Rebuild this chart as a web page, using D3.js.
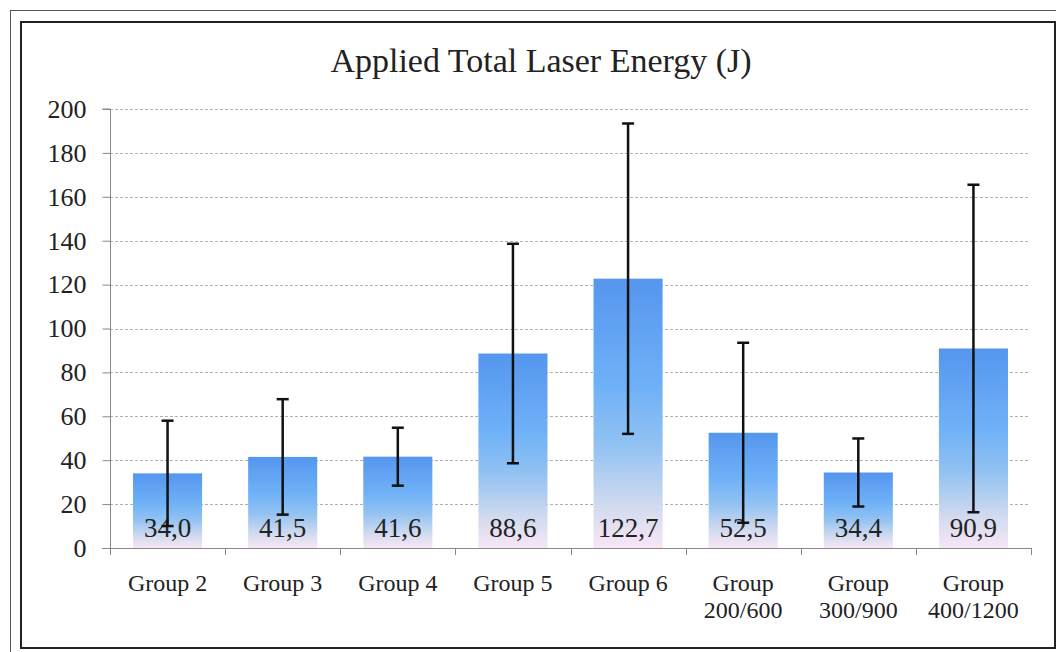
<!DOCTYPE html>
<html>
<head>
<meta charset="utf-8">
<script src="https://cdn.jsdelivr.net/npm/d3@7"></script>
<style>
  html, body { margin: 0; padding: 0; background: #fff; }
  svg { display: block; }
  text { font-family: "Liberation Serif", "Times New Roman", serif; fill: #222; }
</style>
</head>
<body>
<svg id="chart" width="1056" height="652"></svg>
<script>
const categories = [["Group 2"], ["Group 3"], ["Group 4"], ["Group 5"], ["Group 6"],
  ["Group", "200/600"], ["Group", "300/900"], ["Group", "400/1200"]];
const means = [34.0, 41.5, 41.6, 88.6, 122.7, 52.5, 34.4, 90.9];
const meanLabels = ["34,0", "41,5", "41,6", "88,6", "122,7", "52,5", "34,4", "90,9"];
const errors = [24.0, 26.3, 13.2, 50.0, 70.7, 41.0, 15.5, 74.6];
const yTicks = [0, 20, 40, 60, 80, 100, 120, 140, 160, 180, 200];
const title = "Applied Total Laser Energy (J)";

const svg = d3.select("#chart");

// frames
svg.append("rect").attr("x", 10.5).attr("y", 10.5).attr("width", 1060).attr("height", 660)
  .attr("fill", "none").attr("stroke", "#555").attr("stroke-width", 1);
svg.append("rect").attr("x", 21).attr("y", 22).attr("width", 1034).attr("height", 626)
  .attr("fill", "#fff").attr("stroke", "#222").attr("stroke-width", 2);

const x = d3.scaleBand().domain(d3.range(categories.length)).range([110, 1031])
  .paddingInner(0.4).paddingOuter(0.2);
const y = d3.scaleLinear().domain([0, 200]).range([548, 109]);

// gradient
const defs = svg.append("defs");
const grad = defs.append("linearGradient").attr("id", "barGrad")
  .attr("x1", 0).attr("y1", 0).attr("x2", 0).attr("y2", 1);
[[0, "#5596ef"], [0.4, "#6fb1f7"], [0.62, "#92c2f2"], [0.85, "#d3dbef"], [1, "#f8e6f6"]]
  .forEach(([o, c]) => grad.append("stop").attr("offset", o).attr("stop-color", c));

// gridlines
svg.append("g").selectAll("line").data(yTicks.filter(d => d > 0)).join("line")
  .attr("x1", 110).attr("x2", 1028)
  .attr("y1", d => Math.round(y(d)) + 0.5).attr("y2", d => Math.round(y(d)) + 0.5)
  .attr("stroke", "#b0b0b0").attr("stroke-width", 1).attr("stroke-dasharray", "3,2");

// y axis
const yAxis = svg.append("g").attr("transform", "translate(110.5,0)")
  .call(d3.axisLeft(y).tickValues(yTicks).tickSize(8).tickPadding(16));
yAxis.select(".domain").attr("stroke", "#888").attr("d", `M-8,${y(200)}H0V${y(0)}`);
yAxis.selectAll(".tick line").attr("stroke", "#888");
yAxis.selectAll(".tick text").attr("font-size", 26).attr("fill", "#222")
  .attr("font-family", "Liberation Serif, serif");

// bars
svg.append("g").selectAll("rect").data(means).join("rect")
  .attr("x", (d, i) => x(i)).attr("width", x.bandwidth())
  .attr("y", d => y(d)).attr("height", d => y(0) - y(d))
  .attr("fill", "url(#barGrad)");

// data labels
svg.append("g").selectAll("text").data(meanLabels).join("text")
  .attr("x", (d, i) => x(i) + x.bandwidth() / 2).attr("y", 537)
  .attr("text-anchor", "middle").attr("font-size", 27).attr("fill", "#222")
  .text(d => d);

// x axis
const xAxisLine = svg.append("g");
xAxisLine.append("line").attr("x1", 102).attr("x2", 1031).attr("y1", 548.5).attr("y2", 548.5)
  .attr("stroke", "#888");
const step = x.step();
const tickXs = d3.range(categories.length + 1).map(i => x(0) - x.paddingOuter() * step + i * step);
xAxisLine.selectAll("line.tk").data(tickXs).join("line").attr("class", "tk")
  .attr("x1", d => Math.round(d) + 0.5).attr("x2", d => Math.round(d) + 0.5)
  .attr("y1", 548).attr("y2", 555).attr("stroke", "#888");

// x labels
const xl = svg.append("g").selectAll("text").data(categories).join("text")
  .attr("x", (d, i) => x(i) + x.bandwidth() / 2).attr("y", 591)
  .attr("text-anchor", "middle").attr("font-size", 24).attr("fill", "#222");
xl.selectAll("tspan").data(d => d).join("tspan")
  .attr("x", function () { return d3.select(this.parentNode).attr("x"); })
  .attr("dy", (d, i) => i === 0 ? 0 : 27).text(d => d);

// error bars
const eb = svg.append("g").attr("stroke", "#111").attr("stroke-width", 2.5);
means.forEach((m, i) => {
  const cx = x(i) + x.bandwidth() / 2;
  const top = y(m + errors[i]), bot = y(m - errors[i]);
  eb.append("line").attr("x1", cx).attr("x2", cx).attr("y1", top).attr("y2", bot);
  eb.append("line").attr("x1", cx - 6).attr("x2", cx + 6).attr("y1", top).attr("y2", top);
  eb.append("line").attr("x1", cx - 6).attr("x2", cx + 6).attr("y1", bot).attr("y2", bot);
});

// title
svg.append("text").attr("x", 541).attr("y", 72).attr("text-anchor", "middle")
  .attr("font-size", 34).attr("fill", "#222").text(title);
</script>
</body>
</html>
